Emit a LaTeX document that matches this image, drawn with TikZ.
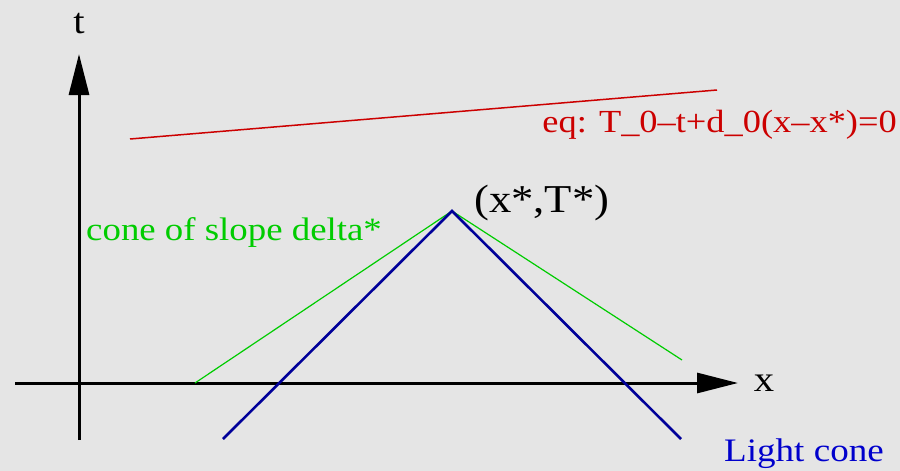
\documentclass[tikz,border=0pt]{standalone}
\usepackage{fontspec}
\setmainfont{Liberation Serif}
\usetikzlibrary{arrows.meta}
\definecolor{bg}{HTML}{E5E5E5}
\definecolor{eqred}{HTML}{CC0000}
\definecolor{conegreen}{HTML}{00CC00}
\definecolor{lightblue}{HTML}{0000CC}
\definecolor{linenavy}{HTML}{000099}
\tikzset{
  axis/.style={line width=3pt, -{Triangle[length=41pt,width=20pt]}},
  lbl/.style={inner sep=0pt, xscale=1.13},
}
\begin{document}
\begin{tikzpicture}[x=1pt,y=-1pt]
\fill[bg] (0,0) rectangle (900,471);
\useasboundingbox (0,0) rectangle (900,471);
% axes
\coordinate (tb) at (79,440);
\coordinate (tt) at (79,54);
\coordinate (xl) at (15,383);
\coordinate (xr) at (738,383);
\draw[axis] (tb) -- (tt);
\draw[axis] (xl) -- (xr);
\node[lbl, anchor=base, font=\fontsize{36}{40}\selectfont] (tlab) at (79,33) {t};
\node[lbl, anchor=base, font=\fontsize{36}{40}\selectfont] (xlab) at (764,391) {x};
% red line
\coordinate (r1) at (130,139);
\coordinate (r2) at (717,90);
\draw[eqred, line width=1.5pt] (r1) -- (r2);
\node[lbl, anchor=base east, text=eqred, font=\fontsize{32.2}{38}\selectfont] (eq) at (897,132) {eq: T\_0–t+d\_0(x–x*)=0};
% apex
\coordinate (apex) at (452,211);
\coordinate (gl) at (195,383);
\coordinate (gr) at (682,360);
\coordinate (bl) at (223,439);
\coordinate (br) at (681,439);
\draw[conegreen, line width=1.2pt] (gl) -- (apex) -- (gr);
\draw[linenavy, line width=2.6pt, line join=miter] (bl) -- (apex) -- (br);
\node[lbl, anchor=base west, font=\fontsize{39.5}{44}\selectfont] (apexlab) at (474,212) {(x*,T*)};
\node[lbl, anchor=base west, text=conegreen, font=\fontsize{32.6}{38}\selectfont] (green) at (86,240) {cone of slope delta*};
\node[lbl, anchor=base west, text=lightblue, font=\fontsize{32.8}{38}\selectfont] (light) at (724,461) {Light cone};
\end{tikzpicture}
\end{document}
